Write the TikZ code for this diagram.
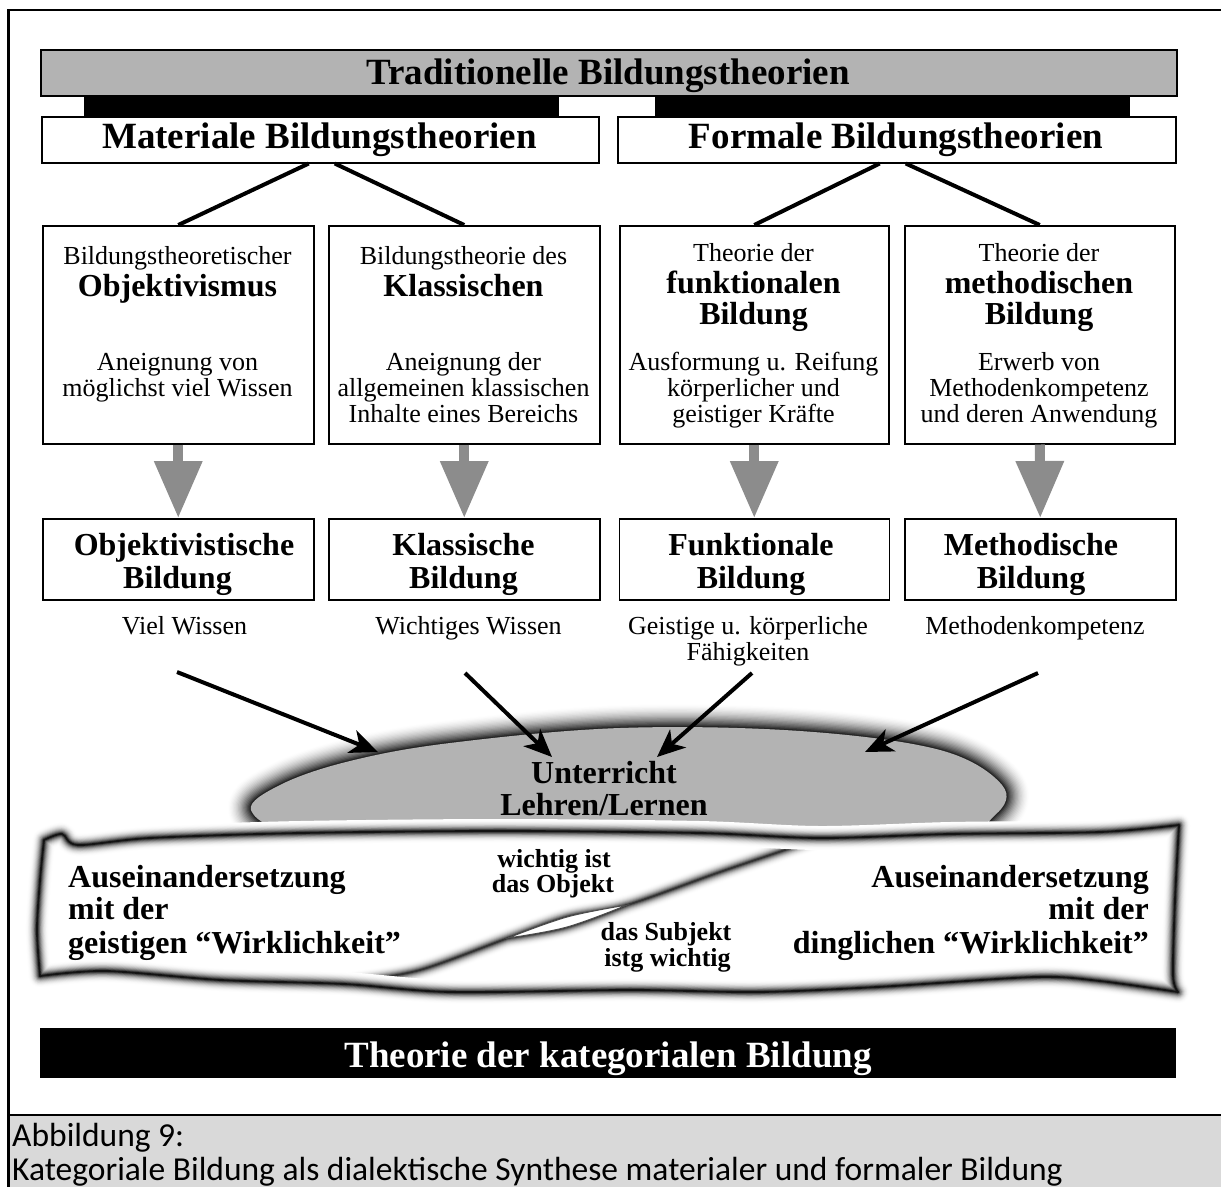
\documentclass[tikz,border=0pt]{standalone}
\usepackage{fontspec}
\setmainfont{Liberation Serif}
\newfontfamily\capfont{Carlito}
\usetikzlibrary{arrows.meta}
\definecolor{bargray}{RGB}{179,179,179}
\definecolor{arrgray}{RGB}{140,140,140}
\definecolor{capgray}{RGB}{217,217,217}
\begin{document}
\begin{tikzpicture}[x=1pt,y=-1pt,
  reg/.style={font=\fontsize{26}{26}\selectfont, inner sep=0pt, text height=18pt, text depth=0pt},
  bld/.style={font=\fontsize{32}{32}\selectfont\bfseries, inner sep=0pt, text height=22.4pt, text depth=0pt},
  ttl/.style={font=\fontsize{37}{37}\selectfont\bfseries, inner sep=0pt, text height=25.9pt, text depth=0pt},
  smb/.style={font=\fontsize{26}{26}\selectfont\bfseries, inner sep=0pt, text height=18pt, text depth=0pt},
  captxt/.style={font=\capfont\fontsize{33.5}{33.5}\selectfont, inner sep=0pt, text height=22pt, text depth=0pt, anchor=west},
  framebox/.style={draw, line width=1.5pt, fill=white, inner sep=0pt, anchor=north west},
  blackbar/.style={fill=black, inner sep=0pt, anchor=north west},
  grayarrow/.style={arrgray, line width=10pt, -{Triangle[width=46pt,length=57pt]}},
  blackarrow/.style={line width=4pt, -{Stealth[length=28pt,width=24pt,inset=8pt]}},
  twig/.style={line width=4pt}
]
\useasboundingbox (0,0) rectangle (1221,1187);

% frame and caption band
\fill[capgray] (8.5,1115) rectangle (1221,1187);
\draw[line width=2.5pt] (8.5,1115) -- (1221,1115);
\draw[line width=2.5pt] (1221,10) -- (8.5,10) -- (8.5,1187);

% header
\node[draw, line width=2pt, fill=bargray, inner sep=0pt, anchor=north west,
      minimum width=1136pt, minimum height=46pt] (tbar) at (40,49) {};
\node[ttl] (ttext) at (608,71.5) {Traditionelle Bildungstheorien};
\node[blackbar, minimum width=475pt, minimum height=21pt] (blk1) at (84,95) {};
\node[blackbar, minimum width=475pt, minimum height=21pt] (blk2) at (655,95) {};
\node[framebox, minimum width=557pt, minimum height=46pt] (mat) at (41,116) {};
\node[framebox, minimum width=558pt, minimum height=46pt] (form) at (617,116) {};
\node[ttl] (mattext) at (319.5,136) {Materiale Bildungstheorien};
\node[ttl] (formtext) at (896,136) {Formale Bildungstheorien};

% upper boxes
\node[framebox, minimum width=271pt, minimum height=218pt] (b1) at (42,225) {};
\node[framebox, minimum width=271pt, minimum height=218pt] (b2) at (328,225) {};
\node[framebox, minimum width=269pt, minimum height=218pt] (b3) at (619,225) {};
\node[framebox, minimum width=270pt, minimum height=218pt] (b4) at (904,225) {};

\draw[twig] ([xshift=-11.5pt]mat.south) -- (b1.north);
\draw[twig] ([xshift=14.5pt]mat.south) -- (b2.north);
\draw[twig] ([xshift=-17pt]form.south) -- (b3.north);
\draw[twig] ([xshift=9pt]form.south) -- (b4.north);

\node[reg] (b1l1) at (177.5,255) {Bildungstheoretischer};
\node[bld] (b1l2) at (177.5,285) {Objektivismus};
\node[reg] (b1l3) at (177.5,361) {Aneignung von};
\node[reg] (b1l4) at (177.5,387) {möglichst viel Wissen};

\node[reg] (b2l1) at (463.5,255) {Bildungstheorie des};
\node[bld] (b2l2) at (463.5,285) {Klassischen};
\node[reg] (b2l3) at (463.5,361) {Aneignung der};
\node[reg] (b2l4) at (463.5,387) {allgemeinen klassischen};
\node[reg] (b2l5) at (463.5,413) {Inhalte eines Bereichs};

\node[reg] (b3l1) at (753.5,252) {Theorie der};
\node[bld] (b3l2) at (753.5,282.5) {funktionalen};
\node[bld] (b3l3) at (753.5,313.5) {Bildung};
\node[reg] (b3l4) at (753.5,361) {Ausformung u. Reifung};
\node[reg] (b3l5) at (753.5,387) {körperlicher und};
\node[reg] (b3l6) at (753.5,413) {geistiger Kräfte};

\node[reg] (b4l1) at (1039,252) {Theorie der};
\node[bld] (b4l2) at (1039,282.5) {methodischen};
\node[bld] (b4l3) at (1039,313.5) {Bildung};
\node[reg] (b4l4) at (1039,361) {Erwerb von};
\node[reg] (b4l5) at (1039,387) {Methodenkompetenz};
\node[reg] (b4l6) at (1039,413) {und deren Anwendung};

% lower boxes
\node[framebox, minimum width=271pt, minimum height=81pt] (lb1) at (42,518) {};
\node[framebox, minimum width=271pt, minimum height=81pt] (lb2) at (328,518) {};
\node[framebox, minimum width=270pt, minimum height=81pt] (lb3) at (618.5,518) {};
\node[framebox, minimum width=271pt, minimum height=81pt] (lb4) at (904,518) {};

\draw[grayarrow] (b1.south) -- (lb1.north);
\draw[grayarrow] (b2.south) -- (lb2.north);
\draw[grayarrow] (b3.south) -- (lb3.north);
\draw[grayarrow] (b4.south) -- (lb4.north);

\node[bld] (lb1l1) at (184,544) {Objektivistische};
\node[bld] (lb1l2) at (177.5,577) {Bildung};
\node[bld] (lb2l1) at (463.5,544) {Klassische};
\node[bld] (lb2l2) at (463.5,577) {Bildung};
\node[bld] (lb3l1) at (751,544) {Funktionale};
\node[bld] (lb3l2) at (751,577) {Bildung};
\node[bld] (lb4l1) at (1031,544) {Methodische};
\node[bld] (lb4l2) at (1031,577) {Bildung};

\node[reg] (st1) at (184.5,625) {Viel Wissen};
\node[reg] (st2) at (468.5,625) {Wichtiges Wissen};
\node[reg] (st3a) at (748,625) {Geistige u. körperliche};
\node[reg] (st3b) at (748,651.5) {Fähigkeiten};
\node[reg] (st4) at (1035,625) {Methodenkompetenz};

% Unterricht ellipse with soft halo
\def\ellshape{plot[smooth cycle, tension=0.6] coordinates {(251,810) (282,784) (350,761) (450,743) (620,728) (800,731) (940,750) (1002,785) (995,815) (940,838) (700,845) (450,842) (300,834)}}
\foreach \i in {0,...,17} {
  \pgfmathsetmacro\w{46*(1-\i/18)}
  \pgfmathsetmacro\c{85*((\i+1)/18)^1.8}
  \draw[line width=\w pt, black!\c, line join=round] \ellshape;
}
\fill[bargray] \ellshape;

% scroll
\def\scrollshape{plot[smooth, tension=0.5] coordinates {(44,840) (62,834) (78,845) (150,838) (300,833) (500,831) (700,833) (820,838) (950,834) (1100,832) (1179,825)}
 -- plot[smooth, tension=0.5] coordinates {(1179,825) (1175,900) (1173,975) (1178,992)}
 -- plot[smooth, tension=0.5] coordinates {(1178,992) (1100,981) (1035,977) (877,987) (758,992) (630,990) (451,992) (344,984) (221,980) (106,971) (40,976)}
 -- plot[smooth, tension=0.5] coordinates {(40,976) (37,930) (40,880) (44,840)} -- cycle}
\def\foldA{plot[smooth, tension=0.5] coordinates {(320,995) (344,984) (420,970) (508,938) (567,917) (627,905) (720,872) (820,838) (850,826)}}
\def\foldB{plot[smooth, tension=0.6] coordinates {(508,938) (567,927) (627,905)}}
\def\lensshape{plot[smooth, tension=0.6] coordinates {(508,938) (567,917) (627,905)} -- plot[smooth, tension=0.6] coordinates {(627,905) (567,927) (508,938)} -- cycle}

\fill[white] \scrollshape;
\begin{scope}
  \clip \scrollshape;
  \foreach \i in {0,...,11} {
    \pgfmathsetmacro\w{22*(1-\i/12)}
    \pgfmathsetmacro\c{80*((\i+1)/12)^2.6}
    \draw[line width=\w pt, black!\c, line join=round] \foldA;
    \draw[line width=\w pt, black!\c, line join=round] \foldB;
  }
  \fill[white] \lensshape;
  \draw[line width=1pt, black!70] \lensshape;
\end{scope}
\foreach \i in {0,...,12} {
  \pgfmathsetmacro\w{24*(1-\i/13)}
  \pgfmathsetmacro\c{92*((\i+1)/13)^2.6}
  \draw[line width=\w pt, black!\c, line join=round] \scrollshape;
}

% arrows into Unterricht
\coordinate (s1) at (177,672);  \coordinate (e1) at (378,752);
\coordinate (s2) at (465,673);  \coordinate (e2) at (552,757);
\coordinate (s3) at (752,673);  \coordinate (e3) at (657,757);
\coordinate (s4) at (1038,673); \coordinate (e4) at (865,752);
\draw[blackarrow] (s1) -- (e1);
\draw[blackarrow] (s2) -- (e2);
\draw[blackarrow] (s3) -- (e3);
\draw[blackarrow] (s4) -- (e4);

\node[bld] (u1) at (604,772) {Unterricht};
\node[bld] (u2) at (604,804) {Lehren/Lernen};

% scroll texts
\node[bld, anchor=west] (la1) at (68,876) {Auseinandersetzung};
\node[bld, anchor=west] (la2) at (68,908) {mit der};
\node[bld, anchor=west] (la3) at (68,942) {geistigen “Wirklichkeit”};
\node[bld, anchor=east] (ra1) at (1149,876) {Auseinandersetzung};
\node[bld, anchor=east] (ra2) at (1149,908) {mit der};
\node[bld, anchor=east] (ra3) at (1149,942) {dinglichen “Wirklichkeit”};
\node[smb] (c1) at (554,858) {wichtig ist};
\node[smb] (c2) at (553,883) {das Objekt};
\node[smb] (c3) at (666,931) {das Subjekt};
\node[smb] (c4) at (667.5,957.5) {istg wichtig};

% bottom bar
\node[blackbar, minimum width=1136pt, minimum height=50pt] (kbar) at (40,1028) {};
\node[ttl, text=white] (ktext) at (608,1055) {Theorie der kategorialen Bildung};

% caption
\node[captxt] (cap1) at (12,1135) {Abbildung 9:};
\node[captxt] (cap2) at (12,1169) {Kategoriale Bildung als dialektische Synthese materialer und formaler Bildung};
\end{tikzpicture}
\end{document}
